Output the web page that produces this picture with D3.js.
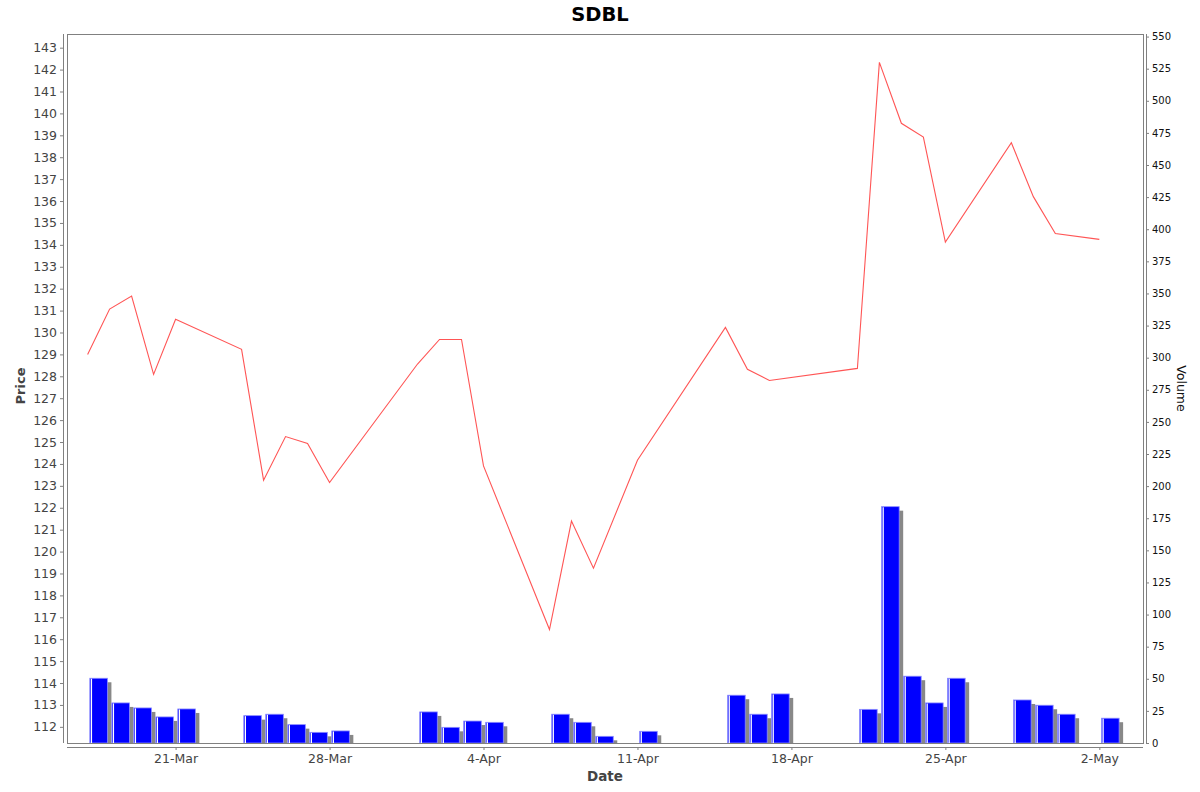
<!DOCTYPE html>
<html>
<head>
<meta charset="utf-8">
<title>SDBL</title>
<script src="https://cdn.jsdelivr.net/npm/d3@7"></script>
<style>
    body { margin: 0; background: #fff; }
    svg { display: block; font-family: "DejaVu Sans", sans-serif; }
</style>
</head>
<body>
<div id="chart"></div>
<script>
// trading days, close price and volume
var dates = ["2014-03-17", "2014-03-18", "2014-03-19", "2014-03-20", "2014-03-21",
    "2014-03-24", "2014-03-25", "2014-03-26", "2014-03-27", "2014-03-28",
    "2014-04-01", "2014-04-02", "2014-04-03", "2014-04-04",
    "2014-04-07", "2014-04-08", "2014-04-09", "2014-04-11",
    "2014-04-15", "2014-04-16", "2014-04-17",
    "2014-04-21", "2014-04-22", "2014-04-23", "2014-04-24", "2014-04-25",
    "2014-04-28", "2014-04-29", "2014-04-30", "2014-05-02"];
var prices = [129.0, 131.07, 131.66, 128.09, 130.6,
    129.23, 123.26, 125.25, 124.93, 123.15,
    128.56, 129.68, 129.68, 123.91,
    116.44, 121.39, 119.24, 124.17,
    130.23, 128.32, 127.81,
    128.36, 142.33, 139.55, 138.92, 134.13,
    138.66, 136.2, 134.52, 134.25];
var volumes = [50.4, 31.2, 27.3, 20.3, 26.5,
    21.3, 22.4, 14.3, 8.3, 9.4,
    24.2, 12.2, 17.1, 16.1,
    22.4, 16.1, 5.2, 9.1,
    37.2, 22.4, 38.2,
    26.2, 184, 52, 31.2, 50.4,
    33.5, 29.4, 22.4, 19.3];
var dateTicks = ["2014-03-21", "2014-03-28", "2014-04-04", "2014-04-11",
    "2014-04-18", "2014-04-25", "2014-05-02"];

var width = 1200, height = 792;
var plotL = 67, plotR = 1143, plotT = 34, plotB = 743;
var DAY = 864e5;

var parse = d3.utcParse("%Y-%m-%d");
var data = dates.map(function (d, i) {
    return { date: parse(d), price: prices[i], volume: volumes[i] };
});

var svg = d3.select("#chart").append("svg")
    .attr("width", width)
    .attr("height", height);

var x = d3.scaleUtc()
    .domain([new Date(Date.UTC(2014, 2, 16, 1, 30)), new Date(Date.UTC(2014, 4, 3, 23, 40))])
    .range([plotL, plotR]);

var pMin = d3.min(prices), pMax = d3.max(prices), pr = pMax - pMin;
var y = d3.scaleLinear()
    .domain([pMin - pr * 0.2, pMax + pr * 0.05])
    .range([plotB, plotT]);

var yv = d3.scaleLinear()
    .domain([0, d3.max(volumes) * 3])
    .range([plotB, plotT]);

svg.append("defs").append("clipPath").attr("id", "plotClip")
    .append("rect")
    .attr("x", plotL).attr("y", plotT)
    .attr("width", plotR - plotL).attr("height", plotB - plotT);

// plot outline
svg.append("rect")
    .attr("x", plotL + 0.5).attr("y", plotT + 0.5)
    .attr("width", plotR - plotL).attr("height", plotB - plotT)
    .attr("fill", "#fff")
    .attr("stroke", "#808080");

var plot = svg.append("g").attr("clip-path", "url(#plotClip)");

// volume bars: shadow, bar, highlight
var bars = plot.selectAll(".bar")
    .data(data)
    .enter().append("g")
    .attr("class", "bar");

function bx0(d) { return x(new Date(+d.date + DAY * 0.1)); }
function bx1(d) { return x(new Date(+d.date + DAY * 0.9)); }

bars.append("rect")
    .attr("x", function (d) { return bx0(d) + 4; })
    .attr("y", function (d) { return yv(d.volume) + 4; })
    .attr("width", function (d) { return bx1(d) - bx0(d); })
    .attr("height", function (d) { return Math.max(0, plotB - yv(d.volume) - 4); })
    .attr("fill", "#888888");

bars.append("rect")
    .attr("x", function (d) { return bx0(d); })
    .attr("y", function (d) { return yv(d.volume); })
    .attr("width", function (d) { return bx1(d) - bx0(d); })
    .attr("height", function (d) { return plotB - yv(d.volume); })
    .attr("fill", "#0000ff")
    .attr("stroke", "#8c8cff")
    .attr("stroke-width", 0.8);

bars.append("line")
    .attr("x1", function (d) { return bx0(d) + 1.6; })
    .attr("x2", function (d) { return bx0(d) + 1.6; })
    .attr("y1", function (d) { return yv(d.volume) + 0.5; })
    .attr("y2", plotB)
    .attr("stroke", "#ffffff")
    .attr("stroke-width", 1.3);

// price line
var line = d3.line()
    .x(function (d) { return x(d.date); })
    .y(function (d) { return y(d.price); });

plot.append("path")
    .datum(data)
    .attr("d", line)
    .attr("fill", "none")
    .attr("stroke", "#ff5555")
    .attr("stroke-width", 1.1);

// axes
var priceAxis = svg.append("g")
    .attr("transform", "translate(" + (plotL - 4) + ",0)")
    .call(d3.axisLeft(y).tickValues(d3.range(112, 144)).tickSize(3).tickPadding(3).tickFormat(d3.format("d")));

var volAxis = svg.append("g")
    .attr("transform", "translate(" + (plotR + 3) + ",0)")
    .call(d3.axisRight(yv).tickValues(d3.range(0, 551, 25)).tickSize(3).tickPadding(3));

var dateAxis = svg.append("g")
    .attr("transform", "translate(0," + (plotB + 4) + ")")
    .call(d3.axisBottom(x).tickValues(dateTicks.map(parse)).tickSize(3).tickPadding(4)
        .tickFormat(d3.utcFormat("%-d-%b")));

[priceAxis, volAxis, dateAxis].forEach(function (a) {
    a.select(".domain").attr("stroke", "#808080");
    a.selectAll(".tick line").attr("stroke", "#808080");
});

priceAxis.select(".domain").attr("d", "M0.5," + plotT + "V" + plotB);
volAxis.select(".domain").attr("d", "M0.5," + plotT + "V" + plotB);
dateAxis.select(".domain").attr("d", "M" + plotL + ",0.5H" + plotR);

priceAxis.selectAll(".tick text")
    .style("font-family", "DejaVu Sans")
    .style("font-size", "12.5px")
    .attr("fill", "#444");
dateAxis.selectAll(".tick text")
    .style("font-family", "DejaVu Sans")
    .style("font-size", "12.5px")
    .attr("fill", "#444");
volAxis.selectAll(".tick text")
    .style("font-family", "DejaVu Sans")
    .style("font-size", "10px")
    .attr("fill", "#111");

// titles
svg.append("text")
    .attr("x", 600).attr("y", 21)
    .attr("text-anchor", "middle")
    .style("font-size", "19.5px")
    .style("font-weight", "bold")
    .attr("fill", "#000")
    .text("SDBL");

svg.append("text")
    .attr("x", (plotL + plotR) / 2).attr("y", 781)
    .attr("text-anchor", "middle")
    .style("font-size", "13.5px")
    .style("font-weight", "bold")
    .attr("fill", "#444")
    .text("Date");

svg.append("text")
    .attr("transform", "translate(25,386) rotate(-90)")
    .attr("text-anchor", "middle")
    .style("font-size", "13px")
    .style("font-weight", "bold")
    .attr("fill", "#444")
    .text("Price");

svg.append("text")
    .attr("transform", "translate(1177," + ((plotT + plotB) / 2) + ") rotate(90)")
    .attr("text-anchor", "middle")
    .style("font-size", "12.5px")
    .attr("fill", "#111")
    .text("Volume");
</script>
</body>
</html>
